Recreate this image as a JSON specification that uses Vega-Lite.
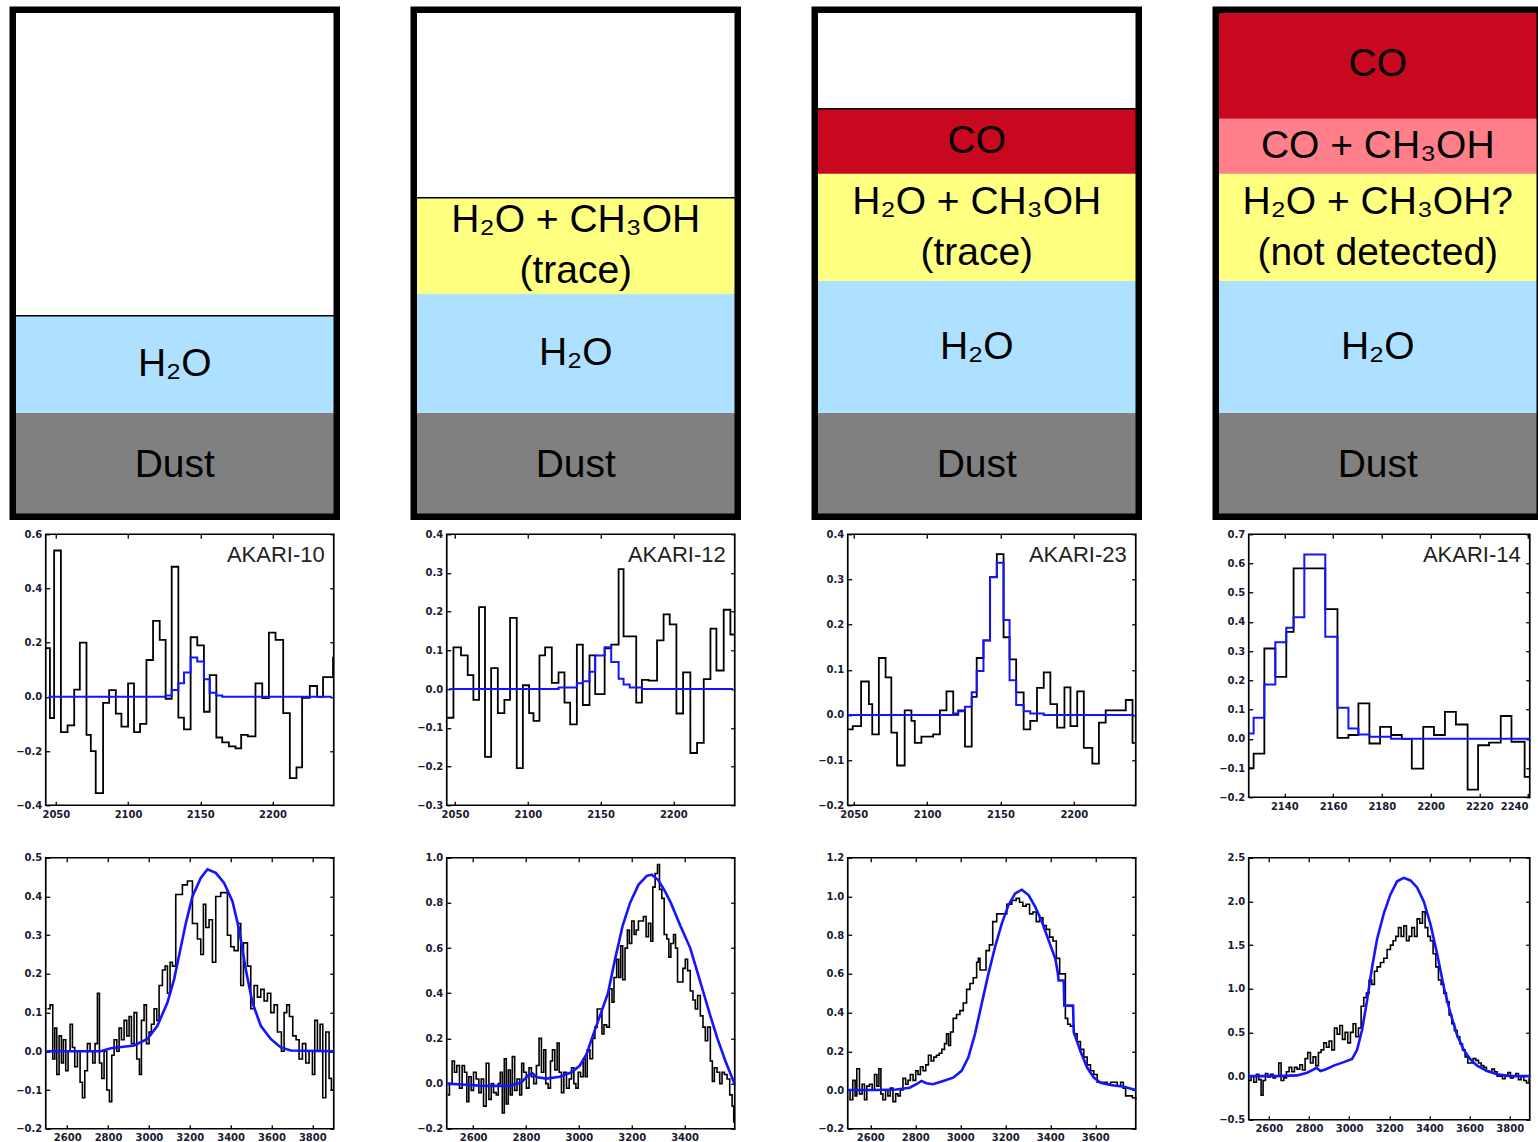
{
"$schema": "https://vega.github.io/schema/vega-lite/v6.json",
"background": "white",
"padding": {"left": 8.75, "top": 5.75, "right": 0, "bottom": 0},
"columns": 4,
"spacing": {"row": 52.5, "column": 113},
"bounds": "flush",
"align": "each",
"config": {
 "font": "DejaVu Sans",
 "view": {"stroke": "black", "strokeWidth": 1.7},
 "axis": {"domain": false, "grid": false, "ticks": true, "tickSize": -4, "tickWidth": 1.3, "tickColor": "black", "labelFont": "DejaVu Sans", "labelFontWeight": "bold", "labelFontSize": 10, "labelColor": "#1a1a33", "labelPadding": 8, "labelFlush": false, "labelOverlap": false}
},
"datasets": {
 "top": [
  {"c":1,"k":"dust","lo":0,"hi":104,"t":"Dust"},
  {"c":1,"k":"h2o","lo":104,"hi":201,"t":"H₂O"},
  {"c":1,"k":"empty","lo":201,"hi":507,"t":""},
  {"c":2,"k":"dust","lo":0,"hi":104,"t":"Dust"},
  {"c":2,"k":"h2o","lo":104,"hi":223,"t":"H₂O"},
  {"c":2,"k":"mix","lo":223,"hi":319,"t":"H₂O + CH₃OH\n(trace)"},
  {"c":2,"k":"empty","lo":319,"hi":507,"t":""},
  {"c":3,"k":"dust","lo":0,"hi":104,"t":"Dust"},
  {"c":3,"k":"h2o","lo":104,"hi":236,"t":"H₂O"},
  {"c":3,"k":"mix","lo":236,"hi":343,"t":"H₂O + CH₃OH\n(trace)"},
  {"c":3,"k":"co","lo":343,"hi":408,"t":"CO"},
  {"c":3,"k":"empty","lo":408,"hi":507,"t":""},
  {"c":4,"k":"dust","lo":0,"hi":104,"t":"Dust"},
  {"c":4,"k":"h2o","lo":104,"hi":236,"t":"H₂O"},
  {"c":4,"k":"mix","lo":236,"hi":343,"t":"H₂O + CH₃OH?\n(not detected)"},
  {"c":4,"k":"coch","lo":343,"hi":398,"t":"CO + CH₃OH"},
  {"c":4,"k":"co","lo":398,"hi":507,"t":"CO"}
 ],
 "a1": [{"x":2043.1,"y":0.18},{"x":2045.9,"y":-0.078},{"x":2048.8,"y":0.54},{"x":2053.5,"y":-0.13},{"x":2058.1,"y":-0.105},{"x":2062.7,"y":0.027},{"x":2066.6,"y":0.2},{"x":2071.2,"y":-0.14},{"x":2074.2,"y":-0.2},{"x":2077.6,"y":-0.355},{"x":2082.7,"y":-0.022},{"x":2086.9,"y":0.025},{"x":2091.5,"y":-0.062},{"x":2095.4,"y":-0.11},{"x":2100.0,"y":0.05},{"x":2104.1,"y":-0.13},{"x":2108.3,"y":-0.1},{"x":2112.7,"y":0.136},{"x":2117.3,"y":0.28},{"x":2121.9,"y":0.21},{"x":2126.0,"y":-0.007},{"x":2130.2,"y":0.48},{"x":2134.8,"y":-0.077},{"x":2138.7,"y":-0.12},{"x":2143.3,"y":0.22},{"x":2147.9,"y":0.19},{"x":2152.5,"y":-0.055},{"x":2156.5,"y":0.08},{"x":2161.1,"y":-0.15},{"x":2165.2,"y":-0.168},{"x":2169.8,"y":-0.183},{"x":2174.4,"y":-0.19},{"x":2178.3,"y":-0.14},{"x":2182.9,"y":-0.146},{"x":2188.2,"y":0.05},{"x":2192.9,"y":-0.005},{"x":2197.5,"y":0.237},{"x":2202.1,"y":0.21},{"x":2207.4,"y":-0.06},{"x":2212.0,"y":-0.3},{"x":2216.6,"y":-0.26},{"x":2220.5,"y":-0.004},{"x":2225.8,"y":0.04},{"x":2230.9,"y":0.0},{"x":2235.0,"y":0.073},{"x":2241.9,"y":0.145},{"x":2242.4,"y":0.145}],
 "b1": [{"x":2045,"y":0},{"x":2126.0,"y":0.005},{"x":2130.2,"y":0.025},{"x":2134.8,"y":0.05},{"x":2138.7,"y":0.09},{"x":2143.3,"y":0.145},{"x":2147.9,"y":0.13},{"x":2152.5,"y":0.065},{"x":2156.5,"y":0.015},{"x":2161.1,"y":0.005},{"x":2165.2,"y":0},{"x":2241,"y":0}],
 "a2": [{"x":2044.3,"y":-0.074},{"x":2048.9,"y":0.108},{"x":2054.1,"y":0.087},{"x":2058.7,"y":0.036},{"x":2062.6,"y":-0.028},{"x":2066.5,"y":0.212},{"x":2070.6,"y":-0.175},{"x":2074.8,"y":0.054},{"x":2079.4,"y":-0.062},{"x":2083.9,"y":-0.028},{"x":2087.8,"y":0.184},{"x":2092.4,"y":-0.204},{"x":2096.6,"y":0.01},{"x":2100.9,"y":-0.062},{"x":2103.9,"y":-0.082},{"x":2108.0,"y":0.087},{"x":2111.9,"y":0.108},{"x":2116.5,"y":0.016},{"x":2121.1,"y":0.043},{"x":2125.2,"y":-0.035},{"x":2129.1,"y":-0.091},{"x":2133.7,"y":0.115},{"x":2137.8,"y":-0.041},{"x":2142.4,"y":0.087},{"x":2146.3,"y":-0.013},{"x":2152.8,"y":0.105},{"x":2157.3,"y":0.115},{"x":2162.4,"y":0.31},{"x":2165.8,"y":0.136},{"x":2174.5,"y":-0.035},{"x":2178.4,"y":0.024},{"x":2183.0,"y":0.022},{"x":2188.8,"y":0.126},{"x":2193.3,"y":0.193},{"x":2197.5,"y":0.167},{"x":2202.1,"y":-0.063},{"x":2206.7,"y":0.043},{"x":2211.7,"y":-0.165},{"x":2216.3,"y":-0.139},{"x":2220.9,"y":0.026},{"x":2225.5,"y":0.156},{"x":2229.6,"y":0.048},{"x":2234.6,"y":0.205},{"x":2239.2,"y":0.141},{"x":2242.2,"y":0.141}],
 "b2": [{"x":2046,"y":0},{"x":2121.1,"y":0.004},{"x":2133.7,"y":0.015},{"x":2137.8,"y":0.02},{"x":2142.4,"y":0.045},{"x":2146.3,"y":0.087},{"x":2152.8,"y":0.108},{"x":2157.3,"y":0.07},{"x":2162.4,"y":0.027},{"x":2165.8,"y":0.012},{"x":2170,"y":0.004},{"x":2178.4,"y":0},{"x":2241,"y":0}],
 "a3": [{"x":2045.9,"y":-0.032},{"x":2049.3,"y":-0.025},{"x":2055.0,"y":0.074},{"x":2060.3,"y":0.024},{"x":2062.6,"y":-0.043},{"x":2067.1,"y":0.126},{"x":2071.7,"y":0.083},{"x":2075.6,"y":-0.039},{"x":2079.5,"y":-0.112},{"x":2084.7,"y":0.01},{"x":2089.3,"y":-0.013},{"x":2091.6,"y":-0.062},{"x":2096.1,"y":-0.048},{"x":2104.1,"y":-0.043},{"x":2108.7,"y":0.01},{"x":2113.2,"y":0.052},{"x":2117.8,"y":0.0},{"x":2121.2,"y":0.01},{"x":2125.8,"y":-0.07},{"x":2130.4,"y":0.04},{"x":2133.8,"y":0.126},{"x":2138.4,"y":0.165},{"x":2142.9,"y":0.305},{"x":2147.5,"y":0.356},{"x":2152.1,"y":0.172},{"x":2156.2,"y":0.123},{"x":2160.7,"y":0.05},{"x":2165.8,"y":-0.032},{"x":2170.3,"y":-0.013},{"x":2174.9,"y":0.06},{"x":2179.5,"y":0.094},{"x":2184.0,"y":0.024},{"x":2188.6,"y":-0.028},{"x":2193.6,"y":0.061},{"x":2197.7,"y":-0.025},{"x":2202.3,"y":0.052},{"x":2206.8,"y":-0.073},{"x":2212.6,"y":-0.108},{"x":2217.1,"y":-0.017},{"x":2221.7,"y":0.01},{"x":2235.4,"y":0.033},{"x":2240.0,"y":-0.062},{"x":2242.2,"y":-0.062}],
 "b3": [{"x":2046,"y":0},{"x":2117.8,"y":0.003},{"x":2121.2,"y":0.008},{"x":2125.8,"y":0.018},{"x":2130.4,"y":0.05},{"x":2133.8,"y":0.097},{"x":2138.4,"y":0.165},{"x":2142.9,"y":0.305},{"x":2147.5,"y":0.337},{"x":2152.1,"y":0.21},{"x":2156.2,"y":0.077},{"x":2160.7,"y":0.022},{"x":2165.8,"y":0.008},{"x":2170.3,"y":0.003},{"x":2179.5,"y":0},{"x":2241,"y":0}],
 "a4": [{"x":2125.4,"y":-0.1},{"x":2127.4,"y":-0.051},{"x":2131.8,"y":0.309},{"x":2136.3,"y":0.212},{"x":2140.8,"y":0.366},{"x":2143.8,"y":0.583},{"x":2156.8,"y":0.444},{"x":2161.8,"y":0.003},{"x":2166.3,"y":0.013},{"x":2170.4,"y":0.121},{"x":2174.9,"y":-0.016},{"x":2179.3,"y":0.041},{"x":2183.8,"y":0.013},{"x":2188.2,"y":0.0},{"x":2192.3,"y":-0.102},{"x":2197.0,"y":0.041},{"x":2201.4,"y":0.013},{"x":2205.9,"y":0.092},{"x":2210.4,"y":0.049},{"x":2215.2,"y":-0.174},{"x":2219.5,"y":-0.022},{"x":2224.0,"y":-0.013},{"x":2228.8,"y":0.078},{"x":2233.2,"y":-0.01},{"x":2238.6,"y":-0.13},{"x":2240.7,"y":-0.13}],
 "b4": [{"x":2125.4,"y":0.018},{"x":2127.4,"y":0.072},{"x":2131.8,"y":0.186},{"x":2136.3,"y":0.33},{"x":2140.8,"y":0.38},{"x":2143.8,"y":0.416},{"x":2148.2,"y":0.631},{"x":2156.8,"y":0.349},{"x":2161.8,"y":0.106},{"x":2166.3,"y":0.035},{"x":2170.4,"y":0.015},{"x":2174.9,"y":0.007},{"x":2183.8,"y":0},{"x":2240.7,"y":0}],
 "c1": [{"x":2503.2,"y":0.11},{"x":2516.2,"y":0.12},{"x":2529.3,"y":-0.02},{"x":2539.1,"y":0.06},{"x":2548.9,"y":-0.06},{"x":2560.3,"y":0.04},{"x":2571.7,"y":-0.03},{"x":2581.5,"y":0.03},{"x":2592.9,"y":-0.05},{"x":2604.3,"y":0.0},{"x":2614.1,"y":0.07},{"x":2625.6,"y":0.01},{"x":2637.0,"y":-0.04},{"x":2650.0,"y":0.0},{"x":2663.1,"y":-0.08},{"x":2674.5,"y":-0.12},{"x":2686.0,"y":-0.05},{"x":2699.0,"y":0.02},{"x":2712.1,"y":0.0},{"x":2725.1,"y":-0.03},{"x":2736.5,"y":0.02},{"x":2748.0,"y":0.15},{"x":2757.8,"y":-0.03},{"x":2769.2,"y":-0.07},{"x":2780.6,"y":0.0},{"x":2793.7,"y":-0.1},{"x":2806.7,"y":-0.13},{"x":2818.1,"y":-0.01},{"x":2829.6,"y":0.03},{"x":2842.6,"y":0.0},{"x":2854.0,"y":0.06},{"x":2865.5,"y":0.03},{"x":2878.5,"y":0.08},{"x":2891.6,"y":0.04},{"x":2903.0,"y":0.09},{"x":2914.4,"y":0.02},{"x":2927.5,"y":0.1},{"x":2940.5,"y":-0.02},{"x":2953.6,"y":-0.06},{"x":2963.4,"y":0.08},{"x":2976.4,"y":0.12},{"x":2987.9,"y":0.02},{"x":3000.9,"y":0.05},{"x":3012.3,"y":0.07},{"x":3025.4,"y":0.11},{"x":3038.5,"y":0.08},{"x":3049.9,"y":0.17},{"x":3066.2,"y":0.21},{"x":3079.3,"y":0.22},{"x":3090.7,"y":0.15},{"x":3103.7,"y":0.23},{"x":3115.2,"y":0.22},{"x":3131.5,"y":0.405},{"x":3164.1,"y":0.43},{"x":3188.6,"y":0.44},{"x":3213.1,"y":0.33},{"x":3237.6,"y":0.29},{"x":3253.9,"y":0.25},{"x":3266.9,"y":0.38},{"x":3278.4,"y":0.32},{"x":3294.7,"y":0.34},{"x":3311.0,"y":0.23},{"x":3327.3,"y":0.4},{"x":3351.8,"y":0.41},{"x":3384.4,"y":0.3},{"x":3400.8,"y":0.27},{"x":3417.1,"y":0.26},{"x":3436.7,"y":0.33},{"x":3449.7,"y":0.17},{"x":3462.8,"y":0.28},{"x":3482.4,"y":0.22},{"x":3498.7,"y":0.11},{"x":3515.0,"y":0.17},{"x":3531.3,"y":0.14},{"x":3547.6,"y":0.16},{"x":3564.0,"y":0.13},{"x":3580.3,"y":0.15},{"x":3596.6,"y":0.1},{"x":3612.9,"y":0.12},{"x":3629.2,"y":0.05},{"x":3648.8,"y":0.0},{"x":3661.9,"y":0.1},{"x":3674.9,"y":0.12},{"x":3688.0,"y":0.09},{"x":3704.3,"y":0.04},{"x":3720.6,"y":0.03},{"x":3735.3,"y":-0.02},{"x":3751.6,"y":0.02},{"x":3767.9,"y":-0.03},{"x":3784.3,"y":0.0},{"x":3800.6,"y":-0.06},{"x":3812.0,"y":0.08},{"x":3825.1,"y":0.0},{"x":3838.1,"y":0.07},{"x":3851.2,"y":-0.12},{"x":3865.9,"y":0.05},{"x":3882.2,"y":-0.07},{"x":3893.6,"y":-0.1},{"x":3905,"y":-0.1}],
 "d1": [{"x":2500,"y":0},{"x":2764.3,"y":0},{"x":2813.2,"y":0.008},{"x":2927.5,"y":0.015},{"x":2992.8,"y":0.032},{"x":3041.7,"y":0.066},{"x":3090.7,"y":0.126},{"x":3123.3,"y":0.186},{"x":3156.0,"y":0.268},{"x":3180.4,"y":0.33},{"x":3213.1,"y":0.4},{"x":3253.9,"y":0.448},{"x":3286.5,"y":0.47},{"x":3327.3,"y":0.461},{"x":3368.1,"y":0.435},{"x":3408.9,"y":0.388},{"x":3441.6,"y":0.315},{"x":3474.2,"y":0.212},{"x":3506.8,"y":0.126},{"x":3547.6,"y":0.066},{"x":3596.6,"y":0.032},{"x":3645.6,"y":0.01},{"x":3694.5,"y":0.002},{"x":3905,"y":0}],
 "c2": [{"x":2503.8,"y":-0.05},{"x":2510.1,"y":0.0},{"x":2520.3,"y":0.1},{"x":2529.1,"y":0.05},{"x":2538.0,"y":0.08},{"x":2548.1,"y":-0.02},{"x":2558.2,"y":0.08},{"x":2567.1,"y":0.05},{"x":2575.9,"y":-0.08},{"x":2583.6,"y":0.03},{"x":2592.4,"y":-0.03},{"x":2601.3,"y":0.05},{"x":2611.4,"y":0.02},{"x":2621.5,"y":-0.04},{"x":2630.4,"y":0.02},{"x":2639.3,"y":-0.1},{"x":2649.4,"y":0.09},{"x":2659.5,"y":-0.07},{"x":2668.4,"y":0.0},{"x":2677.2,"y":-0.04},{"x":2687.4,"y":-0.05},{"x":2695.0,"y":0.0},{"x":2702.6,"y":0.05},{"x":2710.2,"y":-0.13},{"x":2717.8,"y":0.11},{"x":2725.3,"y":-0.09},{"x":2732.9,"y":0.06},{"x":2740.5,"y":-0.05},{"x":2748.1,"y":0.12},{"x":2757.0,"y":-0.03},{"x":2765.9,"y":0.02},{"x":2776.0,"y":-0.05},{"x":2783.6,"y":0.09},{"x":2791.2,"y":0.05},{"x":2801.3,"y":-0.02},{"x":2811.4,"y":0.07},{"x":2820.3,"y":0.03},{"x":2829.2,"y":0.0},{"x":2839.3,"y":0.08},{"x":2849.4,"y":0.2},{"x":2858.3,"y":0.05},{"x":2867.1,"y":0.15},{"x":2874.7,"y":0.0},{"x":2883.6,"y":-0.02},{"x":2892.5,"y":0.1},{"x":2900.1,"y":0.15},{"x":2908.9,"y":0.06},{"x":2917.8,"y":0.18},{"x":2925.4,"y":0.05},{"x":2934.2,"y":-0.04},{"x":2943.1,"y":0.05},{"x":2953.2,"y":-0.02},{"x":2963.4,"y":0.02},{"x":2972.2,"y":0.07},{"x":2981.1,"y":0.0},{"x":2988.7,"y":-0.02},{"x":2997.5,"y":0.05},{"x":3006.4,"y":0.03},{"x":3016.5,"y":0.11},{"x":3024.1,"y":0.03},{"x":3031.7,"y":0.15},{"x":3041.8,"y":0.11},{"x":3052.0,"y":0.2},{"x":3060.8,"y":0.25},{"x":3069.7,"y":0.33},{"x":3079.8,"y":0.33},{"x":3087.4,"y":0.22},{"x":3095.0,"y":0.26},{"x":3105.1,"y":0.25},{"x":3115.3,"y":0.42},{"x":3125.4,"y":0.36},{"x":3133.0,"y":0.47},{"x":3143.1,"y":0.55},{"x":3150.7,"y":0.47},{"x":3158.3,"y":0.61},{"x":3165.9,"y":0.46},{"x":3174.8,"y":0.6},{"x":3183.6,"y":0.68},{"x":3191.2,"y":0.62},{"x":3200.1,"y":0.72},{"x":3209.0,"y":0.66},{"x":3216.6,"y":0.68},{"x":3225.4,"y":0.72},{"x":3234.3,"y":0.72},{"x":3244.4,"y":0.74},{"x":3254.5,"y":0.65},{"x":3263.4,"y":0.71},{"x":3272.3,"y":0.63},{"x":3279.9,"y":0.87},{"x":3288.7,"y":0.93},{"x":3297.6,"y":0.97},{"x":3305.2,"y":0.86},{"x":3314.0,"y":0.82},{"x":3322.9,"y":0.66},{"x":3333.0,"y":0.64},{"x":3340.6,"y":0.56},{"x":3348.2,"y":0.62},{"x":3358.3,"y":0.66},{"x":3365.9,"y":0.6},{"x":3373.5,"y":0.45},{"x":3383.7,"y":0.45},{"x":3393.8,"y":0.51},{"x":3402.7,"y":0.55},{"x":3411.5,"y":0.5},{"x":3421.6,"y":0.41},{"x":3431.8,"y":0.37},{"x":3440.6,"y":0.33},{"x":3449.5,"y":0.39},{"x":3459.6,"y":0.3},{"x":3469.8,"y":0.25},{"x":3478.6,"y":0.19},{"x":3487.5,"y":0.25},{"x":3497.6,"y":0.1},{"x":3505.2,"y":0.01},{"x":3512.8,"y":0.07},{"x":3522.9,"y":0.05},{"x":3533.1,"y":0.0},{"x":3541.9,"y":0.05},{"x":3550.8,"y":0.04},{"x":3560.9,"y":0.02},{"x":3571.0,"y":-0.05},{"x":3579.9,"y":-0.1},{"x":3586.2,"y":-0.17},{"x":3590,"y":-0.17}],
 "d2": [{"x":2500.0,"y":0},{"x":2573.4,"y":-0.005},{"x":2636.7,"y":-0.01},{"x":2738.0,"y":-0.01},{"x":2782.3,"y":0.005},{"x":2807.6,"y":0.035},{"x":2824.1,"y":0.045},{"x":2841.8,"y":0.028},{"x":2877.3,"y":0.022},{"x":2927.9,"y":0.03},{"x":2972.2,"y":0.05},{"x":3003.9,"y":0.08},{"x":3029.2,"y":0.13},{"x":3049.4,"y":0.2},{"x":3079.8,"y":0.3},{"x":3110.2,"y":0.4},{"x":3136.8,"y":0.55},{"x":3165.9,"y":0.7},{"x":3193.7,"y":0.8},{"x":3225.4,"y":0.88},{"x":3257.0,"y":0.92},{"x":3276.1,"y":0.925},{"x":3301.4,"y":0.9},{"x":3326.7,"y":0.85},{"x":3348.2,"y":0.8},{"x":3383.7,"y":0.7},{"x":3421.6,"y":0.6},{"x":3447.0,"y":0.5},{"x":3472.3,"y":0.4},{"x":3497.6,"y":0.3},{"x":3524.2,"y":0.2},{"x":3554.6,"y":0.1},{"x":3588.8,"y":0.0}],
 "c3": [{"x":2500.0,"y":0.0},{"x":2510.4,"y":-0.05},{"x":2522.3,"y":0.05},{"x":2532.7,"y":-0.03},{"x":2540.2,"y":0.11},{"x":2552.1,"y":-0.02},{"x":2564.0,"y":0.03},{"x":2574.4,"y":-0.05},{"x":2584.8,"y":0.02},{"x":2596.7,"y":0.03},{"x":2608.6,"y":0.0},{"x":2619.0,"y":0.08},{"x":2629.5,"y":0.02},{"x":2638.4,"y":0.11},{"x":2647.3,"y":-0.02},{"x":2656.2,"y":-0.05},{"x":2668.1,"y":0.0},{"x":2678.6,"y":-0.03},{"x":2689.0,"y":0.01},{"x":2700.9,"y":-0.06},{"x":2712.8,"y":-0.02},{"x":2723.2,"y":-0.03},{"x":2733.6,"y":0.0},{"x":2745.5,"y":0.06},{"x":2757.4,"y":0.03},{"x":2767.8,"y":0.05},{"x":2778.3,"y":0.08},{"x":2790.2,"y":0.05},{"x":2802.1,"y":0.1},{"x":2812.5,"y":0.08},{"x":2822.9,"y":0.12},{"x":2834.8,"y":0.1},{"x":2846.7,"y":0.13},{"x":2858.6,"y":0.18},{"x":2870.5,"y":0.15},{"x":2882.4,"y":0.17},{"x":2894.3,"y":0.18},{"x":2906.2,"y":0.19},{"x":2918.1,"y":0.21},{"x":2930.0,"y":0.24},{"x":2939.0,"y":0.29},{"x":2947.9,"y":0.23},{"x":2956.8,"y":0.3},{"x":2968.7,"y":0.37},{"x":2983.6,"y":0.39},{"x":2998.5,"y":0.41},{"x":3013.4,"y":0.45},{"x":3028.2,"y":0.52},{"x":3043.1,"y":0.55},{"x":3058.0,"y":0.58},{"x":3072.9,"y":0.66},{"x":3080.3,"y":0.68},{"x":3087.8,"y":0.62},{"x":3099.7,"y":0.62},{"x":3114.5,"y":0.72},{"x":3129.4,"y":0.75},{"x":3144.3,"y":0.87},{"x":3162.2,"y":0.91},{"x":3184.5,"y":0.91},{"x":3206.8,"y":0.96},{"x":3229.1,"y":0.98},{"x":3248.5,"y":0.99},{"x":3263.3,"y":0.97},{"x":3278.2,"y":0.95},{"x":3293.1,"y":0.96},{"x":3308.0,"y":0.91},{"x":3322.9,"y":0.92},{"x":3337.7,"y":0.87},{"x":3352.6,"y":0.89},{"x":3367.5,"y":0.85},{"x":3382.4,"y":0.83},{"x":3397.3,"y":0.79},{"x":3412.1,"y":0.77},{"x":3427.0,"y":0.68},{"x":3441.9,"y":0.6},{"x":3467.2,"y":0.37},{"x":3477.7,"y":0.34},{"x":3489.5,"y":0.33},{"x":3504.4,"y":0.29},{"x":3519.3,"y":0.25},{"x":3534.2,"y":0.21},{"x":3549.0,"y":0.17},{"x":3563.9,"y":0.13},{"x":3578.8,"y":0.1},{"x":3593.7,"y":0.08},{"x":3608.6,"y":0.04},{"x":3623.4,"y":0.04},{"x":3638.3,"y":0.04},{"x":3653.2,"y":0.03},{"x":3668.1,"y":0.04},{"x":3683.0,"y":0.04},{"x":3697.8,"y":0.02},{"x":3712.7,"y":0.04},{"x":3724.6,"y":0.01},{"x":3735.0,"y":-0.03},{"x":3749.9,"y":-0.03},{"x":3764.8,"y":-0.04},{"x":3779.7,"y":-0.05}],
 "d3": [{"x":2500.0,"y":0},{"x":2626.5,"y":0},{"x":2715.8,"y":0.003},{"x":2775.3,"y":0.012},{"x":2805.0,"y":0.03},{"x":2827.4,"y":0.047},{"x":2849.7,"y":0.035},{"x":2879.4,"y":0.03},{"x":2924.1,"y":0.047},{"x":2968.7,"y":0.064},{"x":3005.9,"y":0.099},{"x":3035.7,"y":0.168},{"x":3065.4,"y":0.289},{"x":3095.2,"y":0.445},{"x":3125.0,"y":0.6},{"x":3154.7,"y":0.739},{"x":3184.5,"y":0.86},{"x":3214.2,"y":0.955},{"x":3244.0,"y":1.016},{"x":3273.8,"y":1.035},{"x":3303.5,"y":1.007},{"x":3333.3,"y":0.946},{"x":3363.0,"y":0.869},{"x":3392.8,"y":0.773},{"x":3422.6,"y":0.678},{"x":3433.0,"y":0.61},{"x":3437.4,"y":0.566},{"x":3459.8,"y":0.566},{"x":3462.7,"y":0.436},{"x":3501.4,"y":0.436},{"x":3504.4,"y":0.3},{"x":3534.2,"y":0.2},{"x":3563.9,"y":0.116},{"x":3593.7,"y":0.064},{"x":3623.4,"y":0.038},{"x":3668.1,"y":0.026},{"x":3727.6,"y":0.017},{"x":3779.7,"y":0.0}],
 "c4": [{"x":2500.0,"y":-0.05},{"x":2511.6,"y":0.0},{"x":2524.9,"y":-0.07},{"x":2538.2,"y":0.02},{"x":2549.8,"y":-0.04},{"x":2561.5,"y":-0.22},{"x":2571.4,"y":-0.05},{"x":2583.1,"y":0.03},{"x":2594.7,"y":-0.01},{"x":2608.0,"y":0.02},{"x":2621.3,"y":-0.02},{"x":2632.9,"y":0.0},{"x":2649.5,"y":0.15},{"x":2661.1,"y":-0.05},{"x":2674.4,"y":-0.02},{"x":2687.7,"y":0.05},{"x":2701.0,"y":0.1},{"x":2714.3,"y":0.05},{"x":2727.6,"y":0.1},{"x":2740.8,"y":0.08},{"x":2754.1,"y":0.13},{"x":2767.4,"y":0.07},{"x":2780.7,"y":0.2},{"x":2794.0,"y":0.27},{"x":2807.3,"y":0.15},{"x":2820.6,"y":0.22},{"x":2833.9,"y":0.12},{"x":2847.1,"y":0.27},{"x":2860.4,"y":0.3},{"x":2873.7,"y":0.38},{"x":2887.0,"y":0.33},{"x":2900.3,"y":0.4},{"x":2913.6,"y":0.3},{"x":2926.9,"y":0.55},{"x":2940.2,"y":0.48},{"x":2953.5,"y":0.58},{"x":2966.7,"y":0.42},{"x":2980.0,"y":0.5},{"x":2993.3,"y":0.38},{"x":3006.6,"y":0.5},{"x":3019.9,"y":0.6},{"x":3033.2,"y":0.45},{"x":3046.5,"y":0.55},{"x":3059.8,"y":0.8},{"x":3073.0,"y":0.9},{"x":3086.3,"y":0.95},{"x":3099.6,"y":1.1},{"x":3112.9,"y":1.05},{"x":3126.2,"y":1.2},{"x":3139.5,"y":1.25},{"x":3156.1,"y":1.3},{"x":3172.7,"y":1.35},{"x":3189.3,"y":1.45},{"x":3205.9,"y":1.5},{"x":3219.2,"y":1.55},{"x":3232.5,"y":1.6},{"x":3245.8,"y":1.7},{"x":3259.1,"y":1.6},{"x":3272.4,"y":1.72},{"x":3285.7,"y":1.55},{"x":3298.9,"y":1.6},{"x":3312.2,"y":1.7},{"x":3325.5,"y":1.6},{"x":3338.8,"y":1.8},{"x":3352.1,"y":1.75},{"x":3365.4,"y":1.88},{"x":3378.7,"y":1.7},{"x":3392.0,"y":1.6},{"x":3405.2,"y":1.55},{"x":3418.5,"y":1.4},{"x":3431.8,"y":1.25},{"x":3445.1,"y":1.1},{"x":3458.4,"y":1.05},{"x":3471.7,"y":0.95},{"x":3485.0,"y":0.85},{"x":3498.3,"y":0.7},{"x":3511.5,"y":0.6},{"x":3524.8,"y":0.52},{"x":3538.1,"y":0.45},{"x":3551.4,"y":0.37},{"x":3564.7,"y":0.3},{"x":3578.0,"y":0.22},{"x":3591.3,"y":0.15},{"x":3604.6,"y":0.15},{"x":3617.9,"y":0.2},{"x":3631.1,"y":0.18},{"x":3644.4,"y":0.15},{"x":3657.7,"y":0.12},{"x":3671.0,"y":0.1},{"x":3684.3,"y":0.06},{"x":3697.6,"y":0.05},{"x":3710.9,"y":0.08},{"x":3724.2,"y":0.05},{"x":3737.4,"y":0.0},{"x":3750.7,"y":0.0},{"x":3764.0,"y":-0.03},{"x":3777.3,"y":0.0},{"x":3790.6,"y":0.04},{"x":3803.9,"y":-0.02},{"x":3817.2,"y":0.0},{"x":3830.5,"y":0.03},{"x":3843.7,"y":-0.04},{"x":3857.0,"y":0.0},{"x":3870.3,"y":-0.05},{"x":3883.6,"y":-0.08},{"x":3896.9,"y":-0.03},{"x":3900,"y":-0.03}],
 "d4": [{"x":2500.0,"y":0},{"x":2641.2,"y":0},{"x":2740.8,"y":0.008},{"x":2790.7,"y":0.038},{"x":2823.9,"y":0.076},{"x":2837.2,"y":0.095},{"x":2857.1,"y":0.057},{"x":2882.0,"y":0.076},{"x":2923.6,"y":0.12},{"x":2973.4,"y":0.16},{"x":3014.9,"y":0.197},{"x":3039.8,"y":0.3},{"x":3064.7,"y":0.53},{"x":3089.7,"y":0.87},{"x":3114.6,"y":1.25},{"x":3139.5,"y":1.57},{"x":3172.7,"y":1.86},{"x":3205.9,"y":2.08},{"x":3239.1,"y":2.23},{"x":3272.4,"y":2.27},{"x":3305.6,"y":2.24},{"x":3338.8,"y":2.16},{"x":3372.0,"y":2.0},{"x":3405.2,"y":1.74},{"x":3438.5,"y":1.4},{"x":3471.7,"y":1.02},{"x":3504.9,"y":0.72},{"x":3538.1,"y":0.47},{"x":3571.3,"y":0.3},{"x":3604.6,"y":0.19},{"x":3637.8,"y":0.12},{"x":3687.6,"y":0.057},{"x":3737.4,"y":0.02},{"x":3803.9,"y":0},{"x":3900,"y":0}]
},
"concat": [
 {"width":288,"height":472,"view":{"stroke":null},"data":{"name":"top"},"transform":[{"filter":"datum.c == 1"}],
  "layer":[
   {"mark":{"type":"rect","strokeWidth":1.5},"encoding":{"x":{"datum":0,"type":"quantitative","scale":{"domain":[0,1],"range":[-33,291],"nice":false,"zero":false},"axis":null},"x2":{"datum":1},"y":{"field":"lo","type":"quantitative","scale":{"domain":[0,507],"range":[507,0],"nice":false,"zero":false},"axis":null},"y2":{"field":"hi"},"fill":{"field":"k","type":"nominal","scale":{"domain":["dust","h2o","mix","coch","co","empty"],"range":["#808080","#AEE0FF","#FFFF80","#FF7F8A","#C8081E","#FFFFFF"]},"legend":null},"stroke":{"condition":{"test":"datum.k == 'empty'","value":"black"},"value":"transparent"}}},
   {"transform":[{"filter":"datum.t != '' && indexof(datum.t, '\\n') < 0"},{"fold":["lo","hi"]}],"mark":{"type":"text","font":"Liberation Sans","fontSize":39,"baseline":"middle","align":"center","color":"black"},"encoding":{"x":{"datum":0.5,"type":"quantitative"},"y":{"field":"value","type":"quantitative","aggregate":"mean"},"text":{"field":"t","type":"nominal"}}},
   {"transform":[{"filter":"indexof(datum.t, '\\n') >= 0"},{"fold":["lo","hi"]}],"mark":{"type":"text","font":"Liberation Sans","fontSize":39,"lineBreak":"\n","lineHeight":51,"baseline":"middle","align":"center","dy":-25.5,"color":"black"},"encoding":{"x":{"datum":0.5,"type":"quantitative"},"y":{"field":"value","type":"quantitative","aggregate":"mean"},"text":{"field":"t","type":"nominal"}}},
   {"mark":{"type":"rect","filled":false,"stroke":"black","strokeWidth":6.5},"transform":[{"filter":"datum.k == 'dust'"}],"encoding":{"x":{"datum":0,"type":"quantitative"},"x2":{"datum":1},"y":{"datum":0,"type":"quantitative"},"y2":{"datum":507}}}
  ]},
 {"width":288,"height":472,"view":{"stroke":null},"data":{"name":"top"},"transform":[{"filter":"datum.c == 2"}],
  "layer":[
   {"mark":{"type":"rect","strokeWidth":1.5},"encoding":{"x":{"datum":0,"type":"quantitative","scale":{"domain":[0,1],"range":[-33,291],"nice":false,"zero":false},"axis":null},"x2":{"datum":1},"y":{"field":"lo","type":"quantitative","scale":{"domain":[0,507],"range":[507,0],"nice":false,"zero":false},"axis":null},"y2":{"field":"hi"},"fill":{"field":"k","type":"nominal","scale":{"domain":["dust","h2o","mix","coch","co","empty"],"range":["#808080","#AEE0FF","#FFFF80","#FF7F8A","#C8081E","#FFFFFF"]},"legend":null},"stroke":{"condition":{"test":"datum.k == 'empty'","value":"black"},"value":"transparent"}}},
   {"transform":[{"filter":"datum.t != '' && indexof(datum.t, '\\n') < 0"},{"fold":["lo","hi"]}],"mark":{"type":"text","font":"Liberation Sans","fontSize":39,"baseline":"middle","align":"center","color":"black"},"encoding":{"x":{"datum":0.5,"type":"quantitative"},"y":{"field":"value","type":"quantitative","aggregate":"mean"},"text":{"field":"t","type":"nominal"}}},
   {"transform":[{"filter":"indexof(datum.t, '\\n') >= 0"},{"fold":["lo","hi"]}],"mark":{"type":"text","font":"Liberation Sans","fontSize":39,"lineBreak":"\n","lineHeight":51,"baseline":"middle","align":"center","dy":-25.5,"color":"black"},"encoding":{"x":{"datum":0.5,"type":"quantitative"},"y":{"field":"value","type":"quantitative","aggregate":"mean"},"text":{"field":"t","type":"nominal"}}},
   {"mark":{"type":"rect","filled":false,"stroke":"black","strokeWidth":6.5},"transform":[{"filter":"datum.k == 'dust'"}],"encoding":{"x":{"datum":0,"type":"quantitative"},"x2":{"datum":1},"y":{"datum":0,"type":"quantitative"},"y2":{"datum":507}}}
  ]},
 {"width":288,"height":472,"view":{"stroke":null},"data":{"name":"top"},"transform":[{"filter":"datum.c == 3"}],
  "layer":[
   {"mark":{"type":"rect","strokeWidth":1.5},"encoding":{"x":{"datum":0,"type":"quantitative","scale":{"domain":[0,1],"range":[-33,291],"nice":false,"zero":false},"axis":null},"x2":{"datum":1},"y":{"field":"lo","type":"quantitative","scale":{"domain":[0,507],"range":[507,0],"nice":false,"zero":false},"axis":null},"y2":{"field":"hi"},"fill":{"field":"k","type":"nominal","scale":{"domain":["dust","h2o","mix","coch","co","empty"],"range":["#808080","#AEE0FF","#FFFF80","#FF7F8A","#C8081E","#FFFFFF"]},"legend":null},"stroke":{"condition":{"test":"datum.k == 'empty'","value":"black"},"value":"transparent"}}},
   {"transform":[{"filter":"datum.t != '' && indexof(datum.t, '\\n') < 0"},{"fold":["lo","hi"]}],"mark":{"type":"text","font":"Liberation Sans","fontSize":39,"baseline":"middle","align":"center","color":"black"},"encoding":{"x":{"datum":0.5,"type":"quantitative"},"y":{"field":"value","type":"quantitative","aggregate":"mean"},"text":{"field":"t","type":"nominal"}}},
   {"transform":[{"filter":"indexof(datum.t, '\\n') >= 0"},{"fold":["lo","hi"]}],"mark":{"type":"text","font":"Liberation Sans","fontSize":39,"lineBreak":"\n","lineHeight":51,"baseline":"middle","align":"center","dy":-25.5,"color":"black"},"encoding":{"x":{"datum":0.5,"type":"quantitative"},"y":{"field":"value","type":"quantitative","aggregate":"mean"},"text":{"field":"t","type":"nominal"}}},
   {"mark":{"type":"rect","filled":false,"stroke":"black","strokeWidth":6.5},"transform":[{"filter":"datum.k == 'dust'"}],"encoding":{"x":{"datum":0,"type":"quantitative"},"x2":{"datum":1},"y":{"datum":0,"type":"quantitative"},"y2":{"datum":507}}}
  ]},
 {"width":281,"height":472,"view":{"stroke":null},"data":{"name":"top"},"transform":[{"filter":"datum.c == 4"}],
  "layer":[
   {"mark":{"type":"rect","strokeWidth":1.5},"encoding":{"x":{"datum":0,"type":"quantitative","scale":{"domain":[0,1],"range":[-33,291],"nice":false,"zero":false},"axis":null},"x2":{"datum":1},"y":{"field":"lo","type":"quantitative","scale":{"domain":[0,507],"range":[507,0],"nice":false,"zero":false},"axis":null},"y2":{"field":"hi"},"fill":{"field":"k","type":"nominal","scale":{"domain":["dust","h2o","mix","coch","co","empty"],"range":["#808080","#AEE0FF","#FFFF80","#FF7F8A","#C8081E","#FFFFFF"]},"legend":null},"stroke":{"condition":{"test":"datum.k == 'empty'","value":"black"},"value":"transparent"}}},
   {"transform":[{"filter":"datum.t != '' && indexof(datum.t, '\\n') < 0"},{"fold":["lo","hi"]}],"mark":{"type":"text","font":"Liberation Sans","fontSize":39,"baseline":"middle","align":"center","color":"black"},"encoding":{"x":{"datum":0.5,"type":"quantitative"},"y":{"field":"value","type":"quantitative","aggregate":"mean"},"text":{"field":"t","type":"nominal"}}},
   {"transform":[{"filter":"indexof(datum.t, '\\n') >= 0"},{"fold":["lo","hi"]}],"mark":{"type":"text","font":"Liberation Sans","fontSize":39,"lineBreak":"\n","lineHeight":51,"baseline":"middle","align":"center","dy":-25.5,"color":"black"},"encoding":{"x":{"datum":0.5,"type":"quantitative"},"y":{"field":"value","type":"quantitative","aggregate":"mean"},"text":{"field":"t","type":"nominal"}}},
   {"mark":{"type":"rect","filled":false,"stroke":"black","strokeWidth":6.5},"transform":[{"filter":"datum.k == 'dust'"}],"encoding":{"x":{"datum":0,"type":"quantitative"},"x2":{"datum":1},"y":{"datum":0,"type":"quantitative"},"y2":{"datum":507}}}
  ]},
 {"width":288,"height":271,"layer":[
   {"data":{"name":"a1"},"mark":{"type":"line","interpolate":"step-after","color":"black","strokeWidth":1.8},"encoding":{"x":{"field":"x","type":"quantitative","scale":{"domain":[2043,2242.4],"nice":false,"zero":false},"axis":{"orient":"bottom","title":null,"values":[2050,2100,2150,2200],"format":"d"}},"y":{"field":"y","type":"quantitative","scale":{"domain":[-0.4,0.6],"nice":false,"zero":false},"axis":{"orient":"left","title":null,"values":[-0.4,-0.2,0,0.2,0.4,0.6],"format":".1f"}}}},
   {"data":{"name":"b1"},"mark":{"type":"line","interpolate":"step-after","color":"#1414ff","strokeWidth":2},"encoding":{"x":{"field":"x","type":"quantitative","scale":{"domain":[2043,2242.4],"nice":false,"zero":false},"axis":{"orient":"top","title":null,"values":[2050,2100,2150,2200],"labels":false}},"y":{"field":"y","type":"quantitative","scale":{"domain":[-0.4,0.6],"nice":false,"zero":false},"axis":{"orient":"right","title":null,"values":[-0.4,-0.2,0,0.2,0.4,0.6],"labels":false}}}},
   {"data":{"values":[{"t":"AKARI-10"}]},"mark":{"type":"text","align":"right","baseline":"middle","dx":-9,"dy":21,"font":"Liberation Sans","fontSize":22,"color":"#222"},"encoding":{"x":{"datum":2242.4,"type":"quantitative","axis":null},"y":{"datum":0.6,"type":"quantitative","axis":null},"text":{"field":"t","type":"nominal"}}}
  ],"resolve":{"axis":{"x":"independent","y":"independent"}}},
 {"width":288,"height":271,"layer":[
   {"data":{"name":"a2"},"mark":{"type":"line","interpolate":"step-after","color":"black","strokeWidth":1.8},"encoding":{"x":{"field":"x","type":"quantitative","scale":{"domain":[2044.3,2242.2],"nice":false,"zero":false},"axis":{"orient":"bottom","title":null,"values":[2050,2100,2150,2200],"format":"d"}},"y":{"field":"y","type":"quantitative","scale":{"domain":[-0.3,0.4],"nice":false,"zero":false},"axis":{"orient":"left","title":null,"values":[-0.3,-0.2,-0.1,0,0.1,0.2,0.3,0.4],"format":".1f"}}}},
   {"data":{"name":"b2"},"mark":{"type":"line","interpolate":"step-after","color":"#1414ff","strokeWidth":2},"encoding":{"x":{"field":"x","type":"quantitative","scale":{"domain":[2044.3,2242.2],"nice":false,"zero":false},"axis":{"orient":"top","title":null,"values":[2050,2100,2150,2200],"labels":false}},"y":{"field":"y","type":"quantitative","scale":{"domain":[-0.3,0.4],"nice":false,"zero":false},"axis":{"orient":"right","title":null,"values":[-0.3,-0.2,-0.1,0,0.1,0.2,0.3,0.4],"labels":false}}}},
   {"data":{"values":[{"t":"AKARI-12"}]},"mark":{"type":"text","align":"right","baseline":"middle","dx":-9,"dy":21,"font":"Liberation Sans","fontSize":22,"color":"#222"},"encoding":{"x":{"datum":2242.2,"type":"quantitative","axis":null},"y":{"datum":0.4,"type":"quantitative","axis":null},"text":{"field":"t","type":"nominal"}}}
  ],"resolve":{"axis":{"x":"independent","y":"independent"}}},
 {"width":288,"height":271,"layer":[
   {"data":{"name":"a3"},"mark":{"type":"line","interpolate":"step-after","color":"black","strokeWidth":1.8},"encoding":{"x":{"field":"x","type":"quantitative","scale":{"domain":[2045.9,2242.2],"nice":false,"zero":false},"axis":{"orient":"bottom","title":null,"values":[2050,2100,2150,2200],"format":"d"}},"y":{"field":"y","type":"quantitative","scale":{"domain":[-0.2,0.4],"nice":false,"zero":false},"axis":{"orient":"left","title":null,"values":[-0.2,-0.1,0,0.1,0.2,0.3,0.4],"format":".1f"}}}},
   {"data":{"name":"b3"},"mark":{"type":"line","interpolate":"step-after","color":"#1414ff","strokeWidth":2},"encoding":{"x":{"field":"x","type":"quantitative","scale":{"domain":[2045.9,2242.2],"nice":false,"zero":false},"axis":{"orient":"top","title":null,"values":[2050,2100,2150,2200],"labels":false}},"y":{"field":"y","type":"quantitative","scale":{"domain":[-0.2,0.4],"nice":false,"zero":false},"axis":{"orient":"right","title":null,"values":[-0.2,-0.1,0,0.1,0.2,0.3,0.4],"labels":false}}}},
   {"data":{"values":[{"t":"AKARI-23"}]},"mark":{"type":"text","align":"right","baseline":"middle","dx":-9,"dy":21,"font":"Liberation Sans","fontSize":22,"color":"#222"},"encoding":{"x":{"datum":2242.2,"type":"quantitative","axis":null},"y":{"datum":0.4,"type":"quantitative","axis":null},"text":{"field":"t","type":"nominal"}}}
  ],"resolve":{"axis":{"x":"independent","y":"independent"}}},
 {"width":281,"height":263,"layer":[
   {"data":{"name":"a4"},"mark":{"type":"line","interpolate":"step-after","color":"black","strokeWidth":1.8},"encoding":{"x":{"field":"x","type":"quantitative","scale":{"domain":[2125.4,2240.7],"nice":false,"zero":false},"axis":{"orient":"bottom","title":null,"values":[2140,2160,2180,2200,2220,2240],"format":"d","labelFlush":4}},"y":{"field":"y","type":"quantitative","scale":{"domain":[-0.2,0.7],"nice":false,"zero":false},"axis":{"orient":"left","title":null,"values":[-0.2,-0.1,0,0.1,0.2,0.3,0.4,0.5,0.6,0.7],"format":".1f"}}}},
   {"data":{"name":"b4"},"mark":{"type":"line","interpolate":"step-after","color":"#1414ff","strokeWidth":2},"encoding":{"x":{"field":"x","type":"quantitative","scale":{"domain":[2125.4,2240.7],"nice":false,"zero":false},"axis":{"orient":"top","title":null,"values":[2140,2160,2180,2200,2220,2240],"labels":false}},"y":{"field":"y","type":"quantitative","scale":{"domain":[-0.2,0.7],"nice":false,"zero":false},"axis":{"orient":"right","title":null,"values":[-0.2,-0.1,0,0.1,0.2,0.3,0.4,0.5,0.6,0.7],"labels":false}}}},
   {"data":{"values":[{"t":"AKARI-14"}]},"mark":{"type":"text","align":"right","baseline":"middle","dx":-9,"dy":21,"font":"Liberation Sans","fontSize":22,"color":"#222"},"encoding":{"x":{"datum":2240.7,"type":"quantitative","axis":null},"y":{"datum":0.7,"type":"quantitative","axis":null},"text":{"field":"t","type":"nominal"}}}
  ],"resolve":{"axis":{"x":"independent","y":"independent"}}},
 {"width":288,"height":271,"layer":[
   {"data":{"name":"c1"},"mark":{"type":"line","interpolate":"step-after","color":"black","strokeWidth":1.6},"encoding":{"x":{"field":"x","type":"quantitative","scale":{"domain":[2495,3905],"nice":false,"zero":false},"axis":{"orient":"bottom","title":null,"values":[2600,2800,3000,3200,3400,3600,3800],"format":"d"}},"y":{"field":"y","type":"quantitative","scale":{"domain":[-0.2,0.5],"nice":false,"zero":false},"axis":{"orient":"left","title":null,"values":[-0.2,-0.1,0,0.1,0.2,0.3,0.4,0.5],"format":".1f"}}}},
   {"data":{"name":"d1"},"mark":{"type":"line","color":"#1414ff","strokeWidth":2.6},"encoding":{"x":{"field":"x","type":"quantitative","scale":{"domain":[2495,3905],"nice":false,"zero":false},"axis":{"orient":"top","title":null,"values":[2600,2800,3000,3200,3400,3600,3800],"labels":false}},"y":{"field":"y","type":"quantitative","scale":{"domain":[-0.2,0.5],"nice":false,"zero":false},"axis":{"orient":"right","title":null,"values":[-0.2,-0.1,0,0.1,0.2,0.3,0.4,0.5],"labels":false}}}}
  ],"resolve":{"axis":{"x":"independent","y":"independent"}}},
 {"width":288,"height":271,"layer":[
   {"data":{"name":"c2"},"mark":{"type":"line","interpolate":"step-after","color":"black","strokeWidth":1.6},"encoding":{"x":{"field":"x","type":"quantitative","scale":{"domain":[2500,3590],"nice":false,"zero":false},"axis":{"orient":"bottom","title":null,"values":[2600,2800,3000,3200,3400],"format":"d"}},"y":{"field":"y","type":"quantitative","scale":{"domain":[-0.2,1.0],"nice":false,"zero":false},"axis":{"orient":"left","title":null,"values":[-0.2,0,0.2,0.4,0.6,0.8,1.0],"format":".1f"}}}},
   {"data":{"name":"d2"},"mark":{"type":"line","color":"#1414ff","strokeWidth":2.6},"encoding":{"x":{"field":"x","type":"quantitative","scale":{"domain":[2500,3590],"nice":false,"zero":false},"axis":{"orient":"top","title":null,"values":[2600,2800,3000,3200,3400],"labels":false}},"y":{"field":"y","type":"quantitative","scale":{"domain":[-0.2,1.0],"nice":false,"zero":false},"axis":{"orient":"right","title":null,"values":[-0.2,0,0.2,0.4,0.6,0.8,1.0],"labels":false}}}}
  ],"resolve":{"axis":{"x":"independent","y":"independent"}}},
 {"width":288,"height":271,"layer":[
   {"data":{"name":"c3"},"mark":{"type":"line","interpolate":"step-after","color":"black","strokeWidth":1.6},"encoding":{"x":{"field":"x","type":"quantitative","scale":{"domain":[2500,3780],"nice":false,"zero":false},"axis":{"orient":"bottom","title":null,"values":[2600,2800,3000,3200,3400,3600],"format":"d"}},"y":{"field":"y","type":"quantitative","scale":{"domain":[-0.2,1.2],"nice":false,"zero":false},"axis":{"orient":"left","title":null,"values":[-0.2,0,0.2,0.4,0.6,0.8,1.0,1.2],"format":".1f"}}}},
   {"data":{"name":"d3"},"mark":{"type":"line","color":"#1414ff","strokeWidth":2.6},"encoding":{"x":{"field":"x","type":"quantitative","scale":{"domain":[2500,3780],"nice":false,"zero":false},"axis":{"orient":"top","title":null,"values":[2600,2800,3000,3200,3400,3600],"labels":false}},"y":{"field":"y","type":"quantitative","scale":{"domain":[-0.2,1.2],"nice":false,"zero":false},"axis":{"orient":"right","title":null,"values":[-0.2,0,0.2,0.4,0.6,0.8,1.0,1.2],"labels":false}}}}
  ],"resolve":{"axis":{"x":"independent","y":"independent"}}},
 {"width":281,"height":262,"layer":[
   {"data":{"name":"c4"},"mark":{"type":"line","interpolate":"step-after","color":"black","strokeWidth":1.6},"encoding":{"x":{"field":"x","type":"quantitative","scale":{"domain":[2500,3900],"nice":false,"zero":false},"axis":{"orient":"bottom","title":null,"values":[2600,2800,3000,3200,3400,3600,3800],"format":"d"}},"y":{"field":"y","type":"quantitative","scale":{"domain":[-0.5,2.5],"nice":false,"zero":false},"axis":{"orient":"left","title":null,"values":[-0.5,0,0.5,1.0,1.5,2.0,2.5],"format":".1f"}}}},
   {"data":{"name":"d4"},"mark":{"type":"line","color":"#1414ff","strokeWidth":2.6},"encoding":{"x":{"field":"x","type":"quantitative","scale":{"domain":[2500,3900],"nice":false,"zero":false},"axis":{"orient":"top","title":null,"values":[2600,2800,3000,3200,3400,3600,3800],"labels":false}},"y":{"field":"y","type":"quantitative","scale":{"domain":[-0.5,2.5],"nice":false,"zero":false},"axis":{"orient":"right","title":null,"values":[-0.5,0,0.5,1.0,1.5,2.0,2.5],"labels":false}}}}
  ],"resolve":{"axis":{"x":"independent","y":"independent"}}}
]
}
